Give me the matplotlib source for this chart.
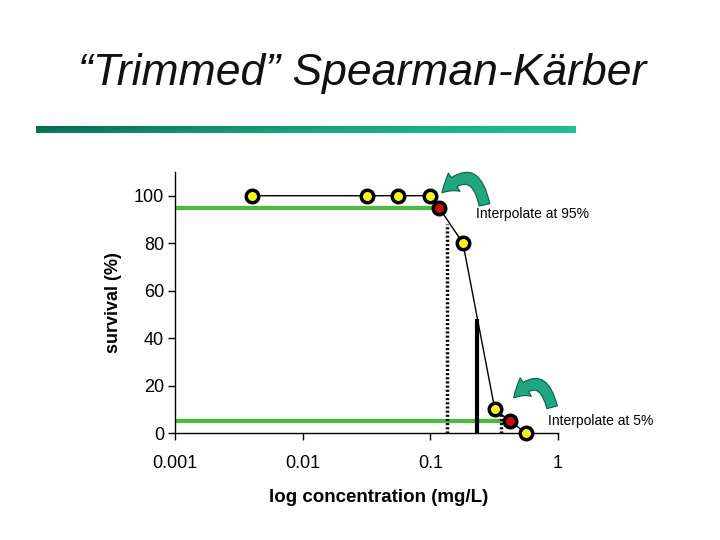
import numpy as np
import matplotlib
matplotlib.use("Agg")
import matplotlib.pyplot as plt
from matplotlib.patches import FancyArrowPatch
from matplotlib.colors import LinearSegmentedColormap

plt.rcParams['font.family'] = ['Liberation Sans', 'DejaVu Sans']

# data
obs_conc = [0.004, 0.032, 0.056, 0.1, 0.18, 0.32, 0.56]
obs_surv = [100, 100, 100, 100, 80, 10, 0]
interp_conc = [0.117, 0.42]
interp_surv = [95, 5]
trim_levels = [95, 5]
dotted_x = [0.135, 0.36]
dotted_top = [88, 8]
lc50_x = 0.23
lc50_top = 48
xticks = [0.001, 0.01, 0.1, 1]
xticklabels = ['0.001', '0.01', '0.1', '1']
yticks = [0, 20, 40, 60, 80, 100]
notes = ['Interpolate at 95%', 'Interpolate at 5%']

fig = plt.figure(figsize=(7.2, 5.4), dpi=100)
fig.patch.set_facecolor('white')

# title
fig.text(362/720, 1-74/540, '\u201cTrimmed\u201d Spearman-K\u00e4rber', ha='center', va='center',
         fontsize=32, style='italic', color='#111111')

# gradient bar
bar_ax = fig.add_axes([36/720, 1-133/540, 540/720, 7/540])
bar_ax.axis('off')
grad = np.linspace(0, 1, 256)
cmap = LinearSegmentedColormap.from_list('tg', ['#07684d', '#18a47a', '#22c496'])
img = np.tile(grad, (8, 1)) * 0.85 + np.linspace(0, 0.15, 8)[:, None]
bar_ax.imshow(img, aspect='auto', cmap=cmap, vmin=0, vmax=1, extent=[0, 1, 1, 0])

ax = fig.add_axes([175/720, 1-433/540, 383/720, 261/540])
ax.set_xscale('log')
ax.set_xlim(0.001, 1)
ax.set_ylim(0, 110)
ax.spines['top'].set_visible(False)
ax.spines['right'].set_visible(False)
for s in ['left', 'bottom']:
    ax.spines[s].set_linewidth(1.0)
ax.set_xticks(xticks)
ax.set_xticklabels(xticklabels)
ax.xaxis.set_minor_locator(matplotlib.ticker.NullLocator())
ax.set_yticks(yticks)
ax.tick_params(axis='both', direction='out', length=5, width=1, labelsize=13)
ax.tick_params(axis='x', pad=11)
ax.tick_params(axis='y', pad=3)

# green trim lines
ax.plot([0.001, interp_conc[0]], [trim_levels[0]] * 2, color='#4cbb3c', lw=3, zorder=2)
ax.plot([0.001, interp_conc[1]], [trim_levels[1]] * 2, color='#4cbb3c', lw=3, zorder=2)

# dotted verticals
for xv, yt in zip(dotted_x, dotted_top):
    ax.plot([xv, xv], [0, yt], color='black', lw=2.5, ls=(0, (0.6, 0.6)), zorder=2)
ax.plot([lc50_x, lc50_x], [0, lc50_top], color='black', lw=3, zorder=2, solid_capstyle='butt')

# connecting line
all_c = obs_conc + interp_conc
all_s = obs_surv + interp_surv
order = np.argsort(all_c)
ax.plot(np.array(all_c)[order], np.array(all_s)[order], color='black', lw=1, zorder=3)

ax.plot(obs_conc, obs_surv, 'o', ms=9, mfc='#f5f51e', mec='black', mew=2.5,
        zorder=4, clip_on=False)
ax.plot(interp_conc, interp_surv, 'o', ms=9, mfc='#c41010', mec='black', mew=2.5,
        zorder=4, clip_on=False)

ax.text(0.2275, 92.4, notes[0], fontsize=10, va='center', ha='left')
ax.text(0.834, 5.1, notes[1], fontsize=10, va='center', ha='left')

# curved arrows
for (tail, head) in [((0.268, 95), (0.119, 100.4)), ((0.91, 9.7), (0.435, 13.9))]:
    arr = FancyArrowPatch(tail, head, connectionstyle='arc3,rad=1.0',
                          arrowstyle='simple,head_width=1.2,head_length=0.9,tail_width=0.6',
                          mutation_scale=13, facecolor='#1fa880', edgecolor='#0b5d47',
                          lw=0.8, zorder=5, clip_on=False)
    ax.add_patch(arr)

fig.text(379/720, 1-497/540, 'log concentration (mg/L)', fontsize=13.5,
         fontweight='bold', ha='center', va='center')
fig.text(113/720, 1-303/540, 'survival (%)', fontsize=13, fontweight='bold',
         ha='center', va='center', rotation=90)

fig.savefig('out.png', dpi=100)
